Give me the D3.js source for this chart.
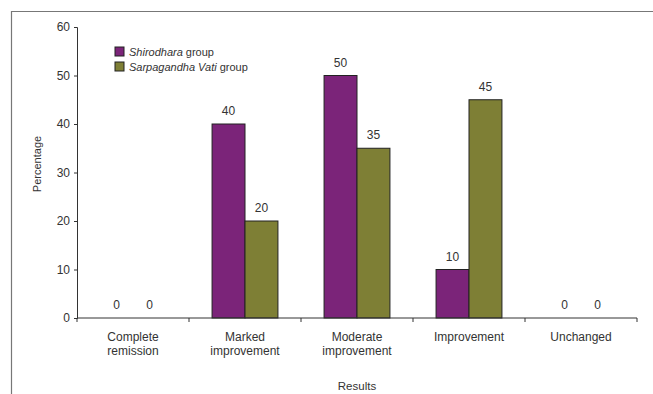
<!DOCTYPE html>
<html>
<head>
<meta charset="utf-8">
<script src="https://cdn.jsdelivr.net/npm/d3@7"></script>
<style>
  html, body { margin: 0; padding: 0; background: #fff; overflow: hidden; }
  svg { display: block; }
  text { font-family: "Liberation Sans", Arial, sans-serif; fill: #333; }
</style>
</head>
<body>
<svg id="chart"></svg>
<script>
// data
const categories = [["Complete", "remission"], ["Marked", "improvement"], ["Moderate", "improvement"], ["Improvement"], ["Unchanged"]];
const groups = ["Shirodhara", "Sarpagandha Vati"];
const shirodhara = [0, 40, 50, 10, 0];
const sarpagandha = [0, 20, 35, 45, 0];
const yTicks = [0, 10, 20, 30, 40, 50, 60];

const width = 653;
const height = 394;
const margin = {top: 27, right: 16, bottom: 76, left: 77};
const innerWidth = width - margin.left - margin.right;
const innerHeight = height - margin.top - margin.bottom;

const color = d3.scaleOrdinal().domain(groups).range(["#7b2479", "#7e7f35"]);

const svg = d3.select('#chart')
  .attr('width', width)
  .attr('height', height);

// outer frame (top and left edges visible)
svg.append('path')
  .attr('d', `M11.5,${height}V11.5H${width}`)
  .attr('fill', 'none')
  .attr('stroke', '#777')
  .attr('stroke-width', 1.2);

const g = svg.append('g')
  .attr('transform', `translate(${margin.left}, ${margin.top})`);

const keys = categories.map((c, i) => i);
const xScale = d3.scaleBand().domain(keys).range([0, innerWidth]);
const xInner = d3.scaleBand().domain(groups).range([0, xScale.bandwidth()]).paddingOuter(0.7);
const yScale = d3.scaleLinear().domain([0, 60]).range([innerHeight, 0]);

// y axis
const yAxis = g.append('g')
  .call(d3.axisLeft(yScale).tickValues(yTicks).tickSize(3).tickPadding(4));
yAxis.select('.domain').attr('stroke', '#333');
yAxis.selectAll('.tick line').attr('stroke', '#333');
yAxis.selectAll('.tick text').style('font-size', '12px').attr('fill', '#333');

// bars
const series = [shirodhara, sarpagandha];
const barGroups = g.selectAll('.cat')
  .data(keys)
  .enter().append('g')
  .attr('transform', d => `translate(${xScale(d)},0)`);

barGroups.selectAll('rect')
  .data(i => groups.map((grp, j) => ({grp, v: series[j][i]})))
  .enter().append('rect')
  .attr('x', d => xInner(d.grp))
  .attr('y', d => yScale(d.v))
  .attr('width', xInner.bandwidth())
  .attr('height', d => innerHeight - yScale(d.v))
  .attr('fill', d => color(d.grp))
  .attr('stroke', '#222')
  .attr('stroke-width', d => d.v > 0 ? 1 : 0);

barGroups.selectAll('.lbl')
  .data(i => groups.map((grp, j) => ({grp, v: series[j][i]})))
  .enter().append('text')
  .attr('x', d => xInner(d.grp) + xInner.bandwidth() / 2)
  .attr('y', d => yScale(d.v) - 9)
  .attr('text-anchor', 'middle')
  .style('font-size', '12px')
  .text(d => d.v);

// x axis
const xAxis = g.append('g')
  .attr('transform', `translate(0, ${innerHeight})`);
xAxis.append('line')
  .attr('x1', 0).attr('x2', innerWidth)
  .attr('stroke', '#333');
xAxis.selectAll('.xt')
  .data(d3.range(keys.length + 1))
  .enter().append('line')
  .attr('x1', d => d * xScale.step())
  .attr('x2', d => d * xScale.step())
  .attr('y1', 0).attr('y2', 4)
  .attr('stroke', '#333');

// category labels, one text per line
const catLines = keys.flatMap(k => categories[k].map((line, i) => ({k, line, i})));
xAxis.selectAll('.xl')
  .data(catLines)
  .enter().append('text')
  .attr('x', d => xScale(d.k) + xScale.bandwidth() / 2)
  .attr('y', d => 23 + d.i * 14)
  .attr('text-anchor', 'middle')
  .style('font-size', '12px')
  .text(d => d.line);

// axis titles
svg.append('text')
  .attr('x', margin.left + innerWidth / 2)
  .attr('y', 390)
  .attr('text-anchor', 'middle')
  .style('font-size', '11.5px')
  .text('Results');

svg.append('text')
  .attr('transform', 'translate(41, 164) rotate(-90)')
  .attr('text-anchor', 'middle')
  .style('font-size', '11px')
  .text('Percentage');

// legend
const legend = svg.selectAll('.legend')
  .data(groups)
  .enter().append('g')
  .attr('transform', (d, i) => `translate(115, ${47 + i * 15})`);
legend.append('rect')
  .attr('width', 9).attr('height', 9)
  .attr('fill', d => color(d))
  .attr('stroke', '#222');
legend.append('text')
  .attr('x', 14).attr('y', 9)
  .style('font-size', '11px')
  .style('font-style', 'italic')
  .text(d => d)
  .each(function() {
    const w = this.getComputedTextLength();
    d3.select(this.parentNode).append('text')
      .attr('x', 14 + w + 3).attr('y', 9)
      .style('font-size', '11px')
      .text('group');
  });
</script>
</body>
</html>
